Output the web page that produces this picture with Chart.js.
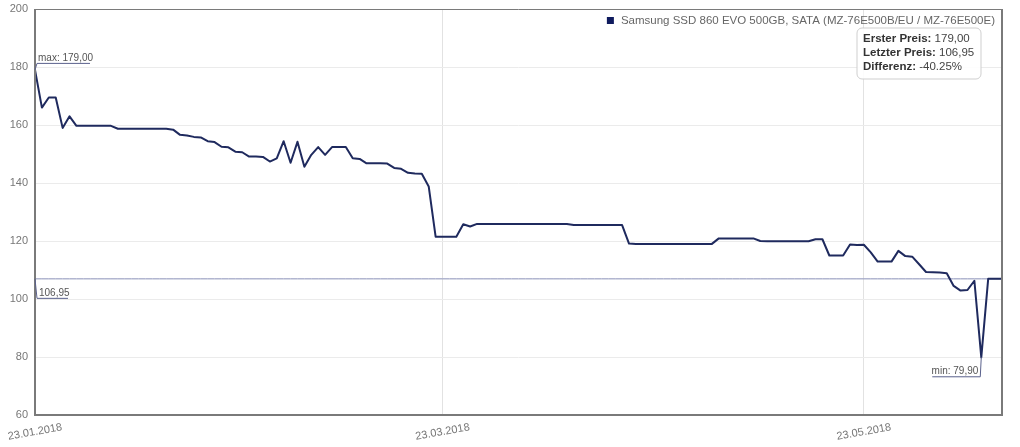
<!DOCTYPE html>
<html>
<head>
<meta charset="utf-8">
<style>
html,body{margin:0;padding:0;background:#fff;}
#wrap{width:1020px;height:447px;position:relative;}
</style>
<script src="https://cdn.jsdelivr.net/npm/chart.js@4.4.1/dist/chart.umd.min.js"></script>
</head>
<body>
<div id="wrap"><canvas id="c" width="1020" height="447"></canvas></div>
<script>
// ---- data ----
const seriesName = 'Samsung SSD 860 EVO 500GB, SATA (MZ-76E500B/EU / MZ-76E500E)';
const startDay = { year: 2018, month: 0, day: 23 }; // 23.01.2018, one price per day
const prices = [
  179.00, 166.0, 169.5, 169.5, 159.0, 163.0, 159.7, 159.7, 159.7, 159.7,
  159.7, 159.7, 158.7, 158.7, 158.7, 158.7, 158.7, 158.7, 158.7, 158.7,
  158.4, 156.6, 156.4, 155.9, 155.7, 154.4, 154.1, 152.5, 152.3, 150.8,
  150.6, 149.1, 149.1, 149.0, 147.4, 148.5, 154.4, 147.0, 154.2, 145.6,
  149.7, 152.4, 149.7, 152.4, 152.4, 152.4, 148.5, 148.3, 146.8, 146.8,
  146.8, 146.7, 145.2, 144.9, 143.5, 143.3, 143.2, 138.8, 121.5, 121.5,
  121.5, 121.5, 125.8, 125.0, 125.9, 125.9, 125.9, 125.9, 125.9, 125.9,
  125.9, 125.9, 125.9, 125.9, 125.9, 125.9, 125.9, 125.9, 125.5, 125.5,
  125.5, 125.5, 125.5, 125.5, 125.5, 125.5, 119.1, 119.0, 119.0, 119.0,
  119.0, 119.0, 119.0, 119.0, 119.0, 119.0, 119.0, 119.0, 119.0, 120.9,
  120.9, 120.9, 120.9, 120.9, 120.9, 120.0, 119.9, 119.9, 119.9, 119.9,
  119.9, 119.9, 119.9, 120.6, 120.6, 115.0, 115.0, 115.0, 118.8, 118.6,
  118.7, 116.1, 112.9, 112.9, 112.9, 116.6, 114.8, 114.6, 112.0, 109.3,
  109.2, 109.1, 108.9, 104.5, 102.9, 103.1, 106.3, 79.90, 106.95, 106.95,
  106.95
];
const tickLabels = ['23.01.2018', '23.03.2018', '23.05.2018'];
const yMin = 60, yMax = 200, yStep = 20;
const lastPrice = 106.95;
const infoLabels = ['Erster Preis:', 'Letzter Preis:', 'Differenz:'];
const infoValues = ['179,00', '106,95', '-40.25%'];
const maxText = 'max: 179,00';
const minText = 'min: 79,90';
const lastText = '106,95';

// ---- derived ----
const pad2 = n => (n < 10 ? '0' : '') + n;
const dates = prices.map((_, i) => {
  const d = new Date(Date.UTC(startDay.year, startDay.month, startDay.day + i));
  return pad2(d.getUTCDate()) + '.' + pad2(d.getUTCMonth() + 1) + '.' + d.getUTCFullYear();
});
const lastLine = prices.map(() => lastPrice);
const FONT = '"Liberation Sans", Arial, sans-serif';
const LINE = '#1f2a5e';
const ANN = '#5a618c';

const overlay = {
  id: 'overlay',
  afterDraw(chart) {
    const ctx = chart.ctx;
    const a = chart.chartArea;
    const xs = chart.scales.x, ys = chart.scales.y;
    ctx.save();

    // frame
    ctx.strokeStyle = '#7a7a7a';
    ctx.lineWidth = 1;
    ctx.beginPath();
    ctx.moveTo(a.left, a.top + 0.5); ctx.lineTo(a.right, a.top + 0.5);
    ctx.stroke();
    ctx.lineWidth = 2;
    ctx.beginPath();
    ctx.moveTo(a.left, a.top); ctx.lineTo(a.left, a.bottom);
    ctx.lineTo(a.right, a.bottom); ctx.lineTo(a.right, a.top);
    ctx.stroke();

    // x tick labels (rotated, centred under tick)
    ctx.fillStyle = '#777';
    ctx.font = '11px ' + FONT;
    ctx.textAlign = 'center';
    ctx.textBaseline = 'middle';
    tickLabels.forEach(lbl => {
      const i = dates.indexOf(lbl);
      if (i < 0) return;
      const px = xs.getPixelForValue(i);
      ctx.save();
      ctx.translate(px, a.bottom + 17);
      ctx.rotate(-10 * Math.PI / 180);
      ctx.fillText(lbl, 0, 0);
      ctx.restore();
    });

    // legend
    ctx.font = '11.5px ' + FONT;
    ctx.textAlign = 'right';
    ctx.textBaseline = 'alphabetic';
    ctx.fillStyle = '#666';
    const lx = a.right - 7;
    ctx.fillText(seriesName, lx, a.top + 15);
    const w = ctx.measureText(seriesName).width;
    ctx.fillStyle = '#0f1b5e';
    ctx.fillRect(lx - w - 14, a.top + 8, 7, 7);

    // info box
    const bx = a.right - 145, by = a.top + 19, bw = 124, bh = 51, r = 5;
    ctx.beginPath();
    ctx.moveTo(bx + r, by);
    ctx.arcTo(bx + bw, by, bx + bw, by + bh, r);
    ctx.arcTo(bx + bw, by + bh, bx, by + bh, r);
    ctx.arcTo(bx, by + bh, bx, by, r);
    ctx.arcTo(bx, by, bx + bw, by, r);
    ctx.closePath();
    ctx.fillStyle = 'rgba(255,255,255,0.9)';
    ctx.fill();
    ctx.strokeStyle = '#cfcfcf';
    ctx.lineWidth = 1;
    ctx.stroke();
    ctx.textAlign = 'left';
    infoLabels.forEach((lbl, k) => {
      const ty = by + 14 + k * 14;
      ctx.font = 'bold 11.5px ' + FONT;
      ctx.fillStyle = '#333';
      ctx.fillText(lbl, bx + 6, ty);
      const lw = ctx.measureText(lbl + ' ').width;
      ctx.font = '11.5px ' + FONT;
      ctx.fillStyle = '#444';
      ctx.fillText(infoValues[k], bx + 6 + lw, ty);
    });

    // annotations
    ctx.font = '10px ' + FONT;
    ctx.lineWidth = 1;
    ctx.strokeStyle = ANN;
    ctx.fillStyle = '#555';
    let iMax = 0, iMin = 0;
    prices.forEach((v, i) => { if (v > prices[iMax]) iMax = i; if (v < prices[iMin]) iMin = i; });
    // max
    let px = xs.getPixelForValue(iMax), py = ys.getPixelForValue(prices[iMax]);
    ctx.beginPath();
    ctx.moveTo(px, py); ctx.lineTo(px + 2, py - 6.5); ctx.lineTo(px + 55, py - 6.5);
    ctx.stroke();
    ctx.textAlign = 'left';
    ctx.fillText(maxText, px + 3, py - 9);
    // last price
    px = a.left; py = ys.getPixelForValue(lastPrice);
    ctx.beginPath();
    ctx.moveTo(px, py); ctx.lineTo(px + 2, py + 19.5); ctx.lineTo(px + 33, py + 19.5);
    ctx.stroke();
    ctx.fillText(lastText, px + 4, py + 17);
    // min
    px = xs.getPixelForValue(iMin); py = ys.getPixelForValue(prices[iMin]);
    ctx.beginPath();
    ctx.moveTo(px, py); ctx.lineTo(px - 1, py + 19.5); ctx.lineTo(px - 49, py + 19.5);
    ctx.stroke();
    ctx.textAlign = 'right';
    ctx.fillText(minText, px - 3, py + 17);

    ctx.restore();
  }
};

new Chart(document.getElementById('c'), {
  type: 'line',
  data: {
    labels: dates,
    datasets: [
      { label: seriesName, data: prices, borderColor: LINE, borderWidth: 2, pointRadius: 0, tension: 0, fill: false, borderJoinStyle: 'round' },
      { label: 'last', data: lastLine, borderColor: '#8a90b8', borderWidth: 1, pointRadius: 0, fill: false }
    ]
  },
  options: {
    responsive: false,
    animation: false,
    devicePixelRatio: 1,
    layout: { padding: { top: 9, right: 18, left: 0, bottom: 0 } },
    plugins: { legend: { display: false }, tooltip: { enabled: false } },
    scales: {
      x: {
        type: 'category',
        offset: false,
        grid: {
          drawTicks: false,
          lineWidth: 1,
          color: c => (c.index > 0 && tickLabels.includes(dates[c.index])) ? '#e2e2e2' : 'rgba(0,0,0,0)'
        },
        border: { display: false },
        ticks: { display: false, autoSkip: false },
        afterFit: s => { s.height = 32; s.paddingLeft = 0; s.paddingRight = 0; }
      },
      y: {
        min: yMin, max: yMax,
        ticks: { stepSize: yStep, color: '#777', padding: 7, font: { family: FONT, size: 11 } },
        grid: { color: '#ebebeb', drawTicks: false, lineWidth: 1 },
        border: { display: false },
        afterFit: s => { s.width = 35; s.paddingTop = 0; s.paddingBottom = 0; }
      }
    }
  },
  plugins: [overlay]
});
</script>
</body>
</html>
